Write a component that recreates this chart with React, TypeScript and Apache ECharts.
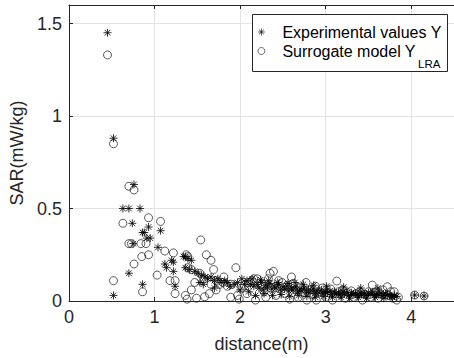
import React, { useEffect, useRef } from "react";
import * as echarts from "echarts";

// distance (m), SAR (mW/kg)
const experimentalValues: [number, number][] = [
  [0.45, 1.45], [0.52, 0.88], [0.52, 0.03], [0.63, 0.5], [0.7, 0.5], [0.76, 0.63], [0.83, 0.5],
  [0.74, 0.42], [0.75, 0.31], [0.7, 0.15], [0.86, 0.37], [0.88, 0.37], [0.91, 0.34], [0.93, 0.4],
  [0.95, 0.34], [0.86, 0.09], [1.04, 0.29], [1.07, 0.38], [1.12, 0.2], [1.14, 0.18], [1.2, 0.22],
  [1.22, 0.21], [1.22, 0.16], [1.24, 0.08], [1.34, 0.24], [1.36, 0.24], [1.39, 0.23], [1.43, 0.22],
  [1.36, 0.18], [1.41, 0.17], [1.47, 0.16], [1.51, 0.15], [1.55, 0.14], [1.59, 0.13], [1.62, 0.12],
  [1.53, 0.1], [1.57, 0.09], [1.66, 0.13], [1.7, 0.11], [1.7, 0.07], [1.74, 0.12], [1.78, 0.1],
  [1.82, 0.11], [1.85, 0.1], [1.88, 0.08], [1.93, 0.09], [1.97, 0.1], [2.0, 0.06], [2.02, 0.12],
  [2.05, 0.09], [2.08, 0.11], [2.1, 0.05], [2.12, 0.09], [2.14, 0.12], [2.16, 0.08], [2.18, 0.03],
  [2.2, 0.09], [2.22, 0.07], [2.24, 0.115], [2.25, 0.1], [2.27, 0.06], [2.28, 0.04], [2.3, 0.085],
  [2.32, 0.075], [2.33, 0.11], [2.35, 0.095], [2.37, 0.065], [2.38, 0.03], [2.4, 0.08], [2.42, 0.07],
  [2.44, 0.1], [2.45, 0.09], [2.47, 0.06], [2.48, 0.035], [2.5, 0.075], [2.52, 0.065], [2.55, 0.08],
  [2.56, 0.095], [2.57, 0.055], [2.58, 0.025], [2.6, 0.07], [2.62, 0.06], [2.64, 0.1], [2.65, 0.075],
  [2.67, 0.05], [2.68, 0.03], [2.7, 0.065], [2.72, 0.055], [2.74, 0.09], [2.75, 0.07], [2.77, 0.045],
  [2.78, 0.025], [2.8, 0.06], [2.82, 0.05], [2.85, 0.065], [2.86, 0.085], [2.87, 0.04], [2.88, 0.02],
  [2.9, 0.055], [2.92, 0.045], [2.95, 0.06], [2.97, 0.04], [2.98, 0.025], [3.0, 0.05], [3.01, 0.08],
  [3.02, 0.045], [3.05, 0.055], [3.07, 0.035], [3.08, 0.02], [3.1, 0.05], [3.12, 0.04], [3.15, 0.045],
  [3.17, 0.035], [3.18, 0.02], [3.2, 0.05], [3.21, 0.075], [3.22, 0.04], [3.25, 0.045], [3.27, 0.03],
  [3.28, 0.015], [3.3, 0.045], [3.32, 0.035], [3.35, 0.04], [3.37, 0.03], [3.38, 0.02], [3.4, 0.045],
  [3.41, 0.07], [3.42, 0.035], [3.45, 0.04], [3.47, 0.03], [3.48, 0.015], [3.5, 0.045], [3.52, 0.035],
  [3.55, 0.05], [3.57, 0.03], [3.58, 0.02], [3.6, 0.04], [3.61, 0.07], [3.62, 0.035], [3.65, 0.045],
  [3.67, 0.03], [3.68, 0.015], [3.7, 0.04], [3.72, 0.03], [3.75, 0.035], [3.77, 0.025], [3.78, 0.02],
  [3.8, 0.03], [3.83, 0.025], [4.04, 0.032], [4.15, 0.027],
];

const surrogateValues: [number, number][] = [
  [0.45, 1.33], [0.52, 0.85], [0.52, 0.11], [0.63, 0.42], [0.7, 0.62], [0.76, 0.6], [0.7, 0.31],
  [0.73, 0.31], [0.84, 0.31], [0.9, 0.31], [0.85, 0.24], [0.93, 0.25], [0.76, 0.2], [0.86, 0.05],
  [0.93, 0.45], [1.07, 0.43], [1.03, 0.14], [1.12, 0.27], [1.22, 0.26], [1.18, 0.11], [1.24, 0.11],
  [1.24, 0.04], [1.37, 0.25], [1.39, 0.24], [1.39, 0.18], [1.43, 0.17], [1.36, 0.03], [1.38, 0.01],
  [1.43, 0.06], [1.49, 0.015], [1.47, 0.1], [1.53, 0.15], [1.54, 0.33], [1.58, 0.12], [1.585, 0.023],
  [1.605, 0.25], [1.64, 0.04], [1.66, 0.22], [1.66, 0.09], [1.69, 0.17], [1.72, 0.06], [1.72, 0.11],
  [1.76, 0.09], [1.8, 0.1], [1.81, 0.13], [1.85, 0.08], [1.89, 0.02], [1.9, 0.09], [1.95, 0.18],
  [1.97, 0.03], [1.99, 0.01], [2.02, 0.07], [2.05, 0.085], [2.08, 0.04], [2.1, 0.1], [2.14, 0.11],
  [2.16, 0.12], [2.18, 0.005], [2.2, 0.12], [2.25, 0.09], [2.28, 0.05], [2.3, 0.02], [2.33, 0.12],
  [2.35, 0.15], [2.39, 0.16], [2.36, 0.07], [2.42, 0.03], [2.45, 0.11], [2.49, 0.1], [2.52, 0.04],
  [2.55, 0.085], [2.58, 0.01], [2.6, 0.13], [2.62, 0.095], [2.65, 0.06], [2.68, 0.02], [2.7, 0.075],
  [2.73, 0.045], [2.77, 0.1], [2.78, 0.005], [2.82, 0.06], [2.85, 0.035], [2.88, 0.08], [2.89, 0.005],
  [2.93, 0.05], [2.96, 0.07], [3.0, 0.02], [3.03, 0.045], [3.06, 0.065], [3.08, 0.005], [3.13, 0.108],
  [3.15, 0.05], [3.17, 0.035], [3.2, 0.06], [3.23, 0.015], [3.26, 0.045], [3.3, 0.055], [3.33, 0.02],
  [3.36, 0.04], [3.4, 0.05], [3.43, 0.005], [3.46, 0.035], [3.5, 0.05], [3.53, 0.02], [3.545, 0.086],
  [3.58, 0.045], [3.61, 0.015], [3.64, 0.04], [3.67, 0.06], [3.72, 0.077], [3.73, 0.03], [3.76, 0.05],
  [3.79, 0.015], [3.8, 0.05], [3.83, 0.005], [3.85, 0.02], [4.04, 0.032], [4.15, 0.027],
];

const seriesNames = ["Experimental values Y", "Surrogate model Y"];
const subscriptText = "LRA";
const xAxisTitle = "distance(m)";
const yAxisTitle = "SAR(mW/kg)";

const FONT = "'Liberation Sans', Arial, Helvetica, sans-serif";
const AXIS_COLOR = "#262626";
const GRID_COLOR = "#e3e3e3";
const ASTERISK = "path://M5,0L5,10M0,5L10,5M1.5,1.5L8.5,8.5M1.5,8.5L8.5,1.5";

export default function App() {
  const ref = useRef<HTMLDivElement>(null);

  useEffect(() => {
    if (!ref.current) return;
    const chart = echarts.init(ref.current, undefined, { renderer: "svg" });
    const axisCommon = {
      type: "value" as const,
      axisLine: { show: true, lineStyle: { color: AXIS_COLOR, width: 1 } },
      axisTick: { show: true, inside: true, length: 4, lineStyle: { color: AXIS_COLOR } },
    };
    chart.setOption({
      animation: false,
      backgroundColor: "#ffffff",
      textStyle: { fontFamily: FONT },
      grid: { left: 69, top: 5, width: 391, height: 296 },
      xAxis: [
        {
          ...axisCommon,
          min: 0,
          max: 4.5,
          interval: 1,
          position: "bottom",
          axisLabel: { fontSize: 18, color: AXIS_COLOR, margin: 7, fontFamily: FONT, showMaxLabel: false },
          splitLine: { show: true, lineStyle: { color: GRID_COLOR, width: 1 } },
          name: xAxisTitle,
          nameLocation: "middle",
          nameGap: 34,
          nameTextStyle: { fontSize: 18, color: AXIS_COLOR, fontFamily: FONT },
        },
        {
          ...axisCommon,
          min: 0,
          max: 4.5,
          interval: 1,
          position: "top",
          axisLabel: { show: false },
          splitLine: { show: false },
        },
      ],
      yAxis: [
        {
          ...axisCommon,
          min: 0,
          max: 1.6,
          interval: 0.5,
          axisLabel: { fontSize: 18, color: AXIS_COLOR, margin: 7, fontFamily: FONT, showMaxLabel: false },
          splitLine: { show: true, lineStyle: { color: GRID_COLOR, width: 1 } },
          name: yAxisTitle,
          nameLocation: "middle",
          nameGap: 33,
          nameTextStyle: { fontSize: 18, color: AXIS_COLOR, fontFamily: FONT },
        },
      ],
      legend: {
        orient: "vertical",
        left: 257.5,
        top: 24,
        padding: 0,
        itemGap: 3,
        itemWidth: 7,
        itemHeight: 7,
        z: 10,
        data: seriesNames,
        itemStyle: { borderWidth: 0.8 },
        textStyle: {
          fontSize: 16,
          color: "#000",
          fontFamily: FONT,
          padding: [0, 0, 0, 12.5],
        },
      },
      graphic: [
        {
          type: "rect",
          z: 5,
          shape: { x: 252.5, y: 14.5, width: 195, height: 57 },
          style: { fill: "#ffffff", stroke: AXIS_COLOR, lineWidth: 1 },
        },
        {
          type: "text",
          z: 11,
          x: 418,
          y: 64,
          style: {
            text: subscriptText,
            fontSize: 11.5,
            fontFamily: FONT,
            fill: "#000",
            verticalAlign: "middle",
            align: "left",
          },
        },
      ],
      series: [
        {
          name: seriesNames[0],
          type: "scatter",
          data: experimentalValues,
          symbol: ASTERISK,
          symbolSize: 8,
          itemStyle: { color: "rgba(0,0,0,0)", borderColor: "#000", borderWidth: 1 },
          z: 3,
        },
        {
          name: seriesNames[1],
          type: "scatter",
          data: surrogateValues,
          symbol: "circle",
          symbolSize: 8,
          itemStyle: { color: "rgba(0,0,0,0)", borderColor: "#1a1a1a", borderWidth: 0.9 },
          z: 2,
        },
      ],
    });
    return () => chart.dispose();
  }, []);

  return (
    <div
      ref={ref}
      style={{ position: "fixed", left: 0, top: 0, width: 454, height: 358, background: "#fff" }}
    />
  );
}
